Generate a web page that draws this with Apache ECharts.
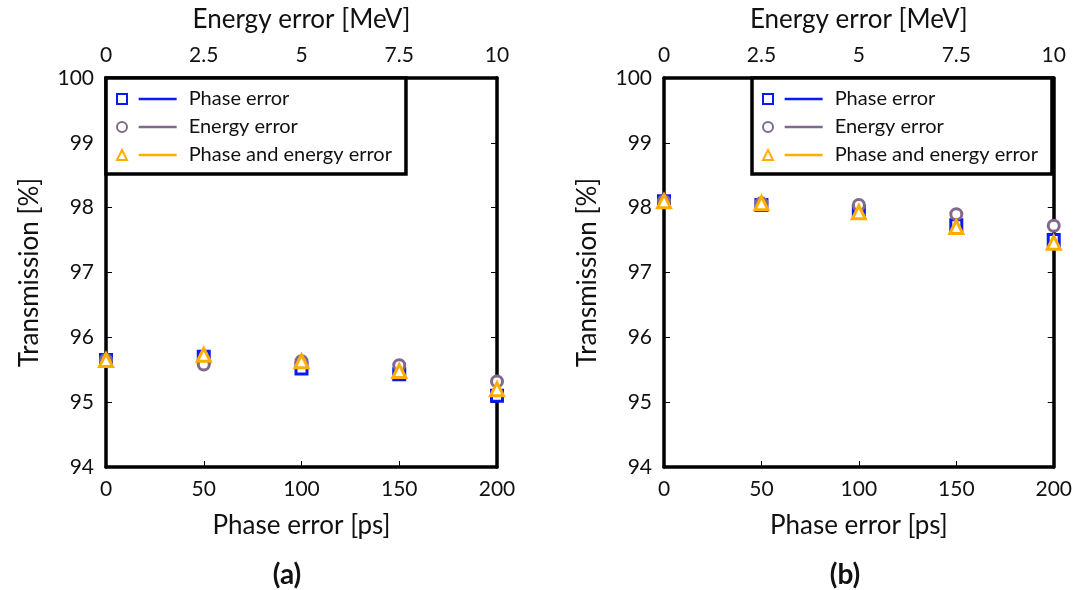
<!DOCTYPE html>
<html>
<head>
<meta charset="utf-8">
<script src="https://cdn.jsdelivr.net/npm/echarts@6/dist/echarts.min.js"></script>
<style>
  html, body { margin: 0; padding: 0; background: #fff; }
  #chart { width: 1075px; height: 590px; }
</style>
</head>
<body>
<div id="chart"></div>
<script>
// phase error [ps] on the bottom axis, energy error [MeV] on the top axis
const phaseTicks = [0, 50, 100, 150, 200]
const energyTicks = [0, 2.5, 5, 7.5, 10]
const seriesNames = ['Phase error', 'Energy error', 'Phase and energy error']

// (a)
const phaseA = [95.65, 95.70, 95.52, 95.43, 95.10]
const energyA = [95.65, 95.58, 95.63, 95.57, 95.32]
const bothA = [95.65, 95.73, 95.63, 95.48, 95.20]

// (b)
const phaseB = [98.10, 98.04, 97.94, 97.73, 97.50]
const energyB = [98.10, 98.07, 98.04, 97.90, 97.72]
const bothB = [98.10, 98.07, 97.93, 97.70, 97.46]

const colors = ['#0a1af2', '#7f6a8c', '#ffae00']
const symbols = ['rect', 'circle', 'triangle']
const FONT = 'Lato'

const chart = echarts.init(document.getElementById('chart'))

const panels = [
  { left: 106, right: 578, caption: '(a)', data: [phaseA, energyA, bothA] },
  { left: 664, right: 21, caption: '(b)', data: [phaseB, energyB, bothB] },
]

const grid = [], xAxis = [], yAxis = [], series = [], legend = [], title = []
const frame = { show: true, onZero: false, lineStyle: { color: '#000', width: 3.5 } }
const tick = { show: true, inside: true, length: 6, lineStyle: { color: '#000', width: 1 } }
const label = { color: '#111', fontSize: 21, fontFamily: FONT }
const nameStyle = { color: '#111', fontSize: 26, fontFamily: FONT }

panels.forEach((p, i) => {
  grid.push({ left: p.left, right: p.right, top: 78, bottom: 123 })
  xAxis.push({
    gridIndex: i, type: 'value', position: 'bottom', min: 0, max: 200, interval: 50,
    name: 'Phase error [ps]', nameLocation: 'middle', nameGap: 46, nameTextStyle: nameStyle,
    axisLine: frame, axisTick: tick, splitLine: { show: false },
    axisLabel: { ...label, margin: 12 },
  })
  xAxis.push({
    gridIndex: i, type: 'value', position: 'top', min: 0, max: 10, interval: 2.5,
    name: 'Energy error [MeV]', nameLocation: 'middle', nameGap: 45, nameTextStyle: nameStyle,
    axisLine: frame, axisTick: tick, splitLine: { show: false },
    axisLabel: { ...label, margin: 12, formatter: v => String(v) },
  })
  yAxis.push({
    gridIndex: i, type: 'value', position: 'left', min: 94, max: 100, interval: 1,
    name: 'Transmission [%]', nameLocation: 'middle', nameGap: 63, nameTextStyle: nameStyle,
    axisLine: frame, axisTick: tick, splitLine: { show: false },
    axisLabel: { ...label, margin: 12 },
  })
  yAxis.push({
    gridIndex: i, type: 'value', position: 'right', min: 94, max: 100, interval: 1,
    axisLine: frame, axisTick: tick, splitLine: { show: false }, axisLabel: { show: false },
  })
  p.data.forEach((vals, k) => {
    series.push({
      type: 'scatter', name: seriesNames[k], xAxisIndex: i * 2, yAxisIndex: i * 2,
      symbol: symbols[k], symbolSize: k === 2 ? 13 : 11,
      itemStyle: { color: '#fff', borderColor: colors[k], borderWidth: 3, opacity: 1 },
      data: phaseTicks.map((x, j) => [x, vals[j]]),
      z: 3 + k,
    })
  })
  const rich = { txt: { fontSize: 20, fontFamily: FONT, color: '#111', lineHeight: 18, padding: [0, 0, 0, 12] } }
  colors.forEach((c, k) => {
    rich['l' + k] = { width: 38, height: 2.5, backgroundColor: c }
  })
  legend.push({
    orient: 'vertical',
    left: i === 0 ? 106 : 752, top: 78,
    data: seriesNames,
    itemWidth: 10, itemHeight: 10, itemGap: 8,
    padding: [11, 14, 9, 10],
    backgroundColor: '#fff',
    borderColor: '#000', borderWidth: 3.5,
    selectedMode: false,
    textStyle: { rich },
    formatter: name => '  {l' + seriesNames.indexOf(name) + '|}{txt|' + name + '}',
    z: 10,
  })
  title.push({
    text: p.caption,
    left: i === 0 ? 282 : 840, top: 556, textAlign: 'center',
    textStyle: { fontSize: 28, fontWeight: 'bold', fontFamily: FONT, color: '#111' },
  })
})

chart.setOption({
  animation: false,
  grid, xAxis, yAxis, series, legend, title,
})
</script>
</body>
</html>
